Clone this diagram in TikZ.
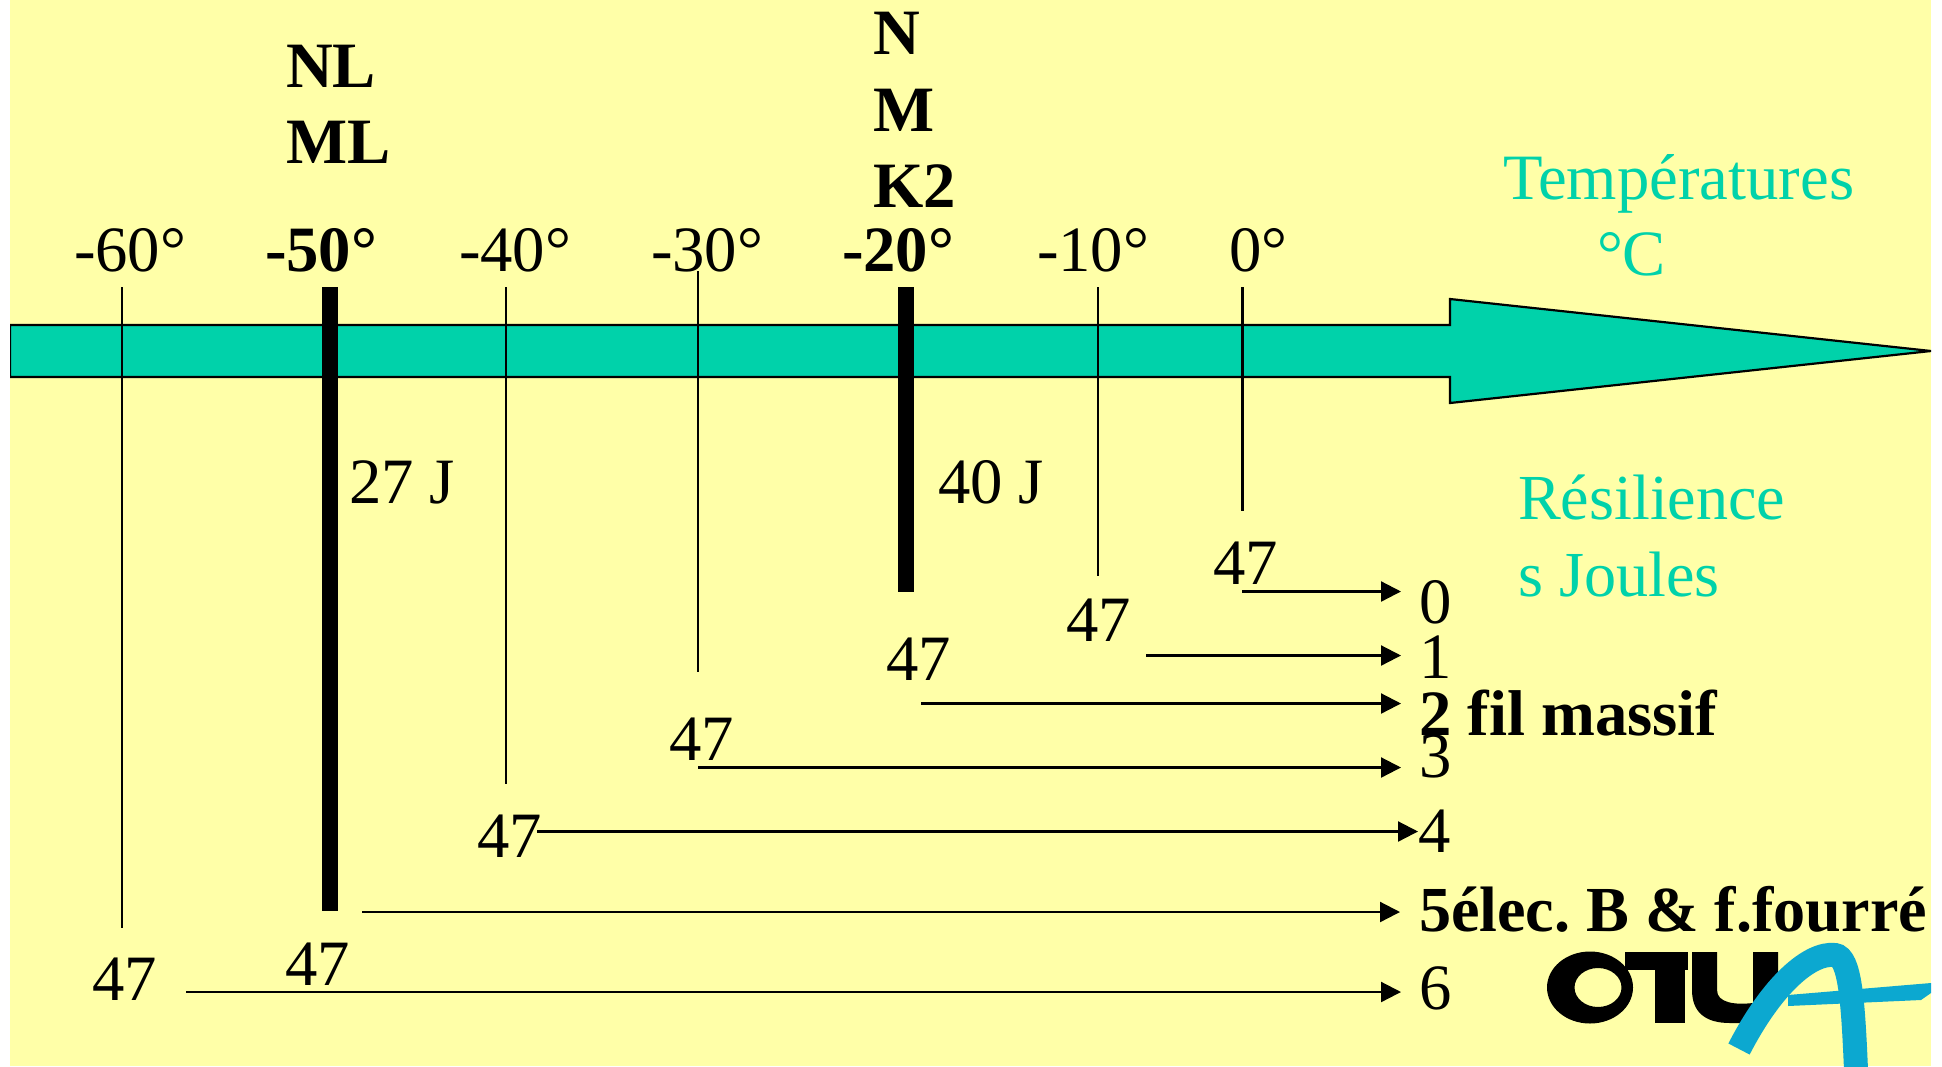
\documentclass[tikz,border=0pt]{standalone}
\usepackage{fontspec}
\setmainfont{Liberation Serif}
\usetikzlibrary{arrows.meta}
\definecolor{paper}{HTML}{FFFFA8}
\definecolor{teal}{HTML}{00D2AA}
\definecolor{logoblue}{HTML}{0CA8D0}
\tikzset{
  txt/.style={anchor=base west,inner sep=0pt,outer sep=0pt,font=\fontsize{64.7}{65}\selectfont\frenchspacing,text=black},
  boldtxt/.style={txt,font=\fontsize{64.7}{65}\selectfont\bfseries\frenchspacing},
  tealtxt/.style={txt,text=teal},
  thinline/.style={draw=black,line width=2.2pt},
  thickline/.style={draw=black,line width=16pt},
  conn/.style={draw=black,line width=2.2pt,-{Triangle[length=20pt,width=20pt]},shorten >=0pt},
}
\begin{document}
\begin{tikzpicture}[x=1pt,y=-1pt]
\useasboundingbox (0,0) rectangle (1942,1066);
\fill[white] (0,0) rectangle (1942,1066);
\fill[paper] (10,0) rectangle (1931,1066);
% main arrow
\begin{scope}
\clip (10,0) rectangle (1931,1066);
\draw[fill=teal,draw=black,line width=2.2pt,miter limit=4] (10,325) -- (1450,325) -- (1450,299) -- (1931,351) -- (1450,403) -- (1450,377) -- (10,377) -- cycle;
\end{scope}
% scale lines
\coordinate (a60) at (122,287); \coordinate (b60) at (122,928);
\coordinate (a40) at (506,287); \coordinate (b40) at (506,784);
\coordinate (a30) at (698,271); \coordinate (b30) at (698,672);
\coordinate (a10) at (1098,287); \coordinate (b10) at (1098,576);
\coordinate (a0) at (1242.5,287); \coordinate (b0) at (1242.5,511);
\coordinate (a50) at (330,287); \coordinate (b50) at (330,911);
\coordinate (a20) at (906,287); \coordinate (b20) at (906,592);
\draw[thinline] (a60) -- (b60);
\draw[thinline] (a40) -- (b40);
\draw[thinline] (a30) -- (b30);
\draw[thinline] (a10) -- (b10);
\draw[thinline] (a0) -- (b0);
\draw[thickline] (a50) -- (b50);
\draw[thickline] (a20) -- (b20);
% top labels
\node[boldtxt] (nl) at (286,87) {NL};
\node[boldtxt] (ml) at (286,163) {ML};
\node[boldtxt] (n) at (873,54) {N};
\node[boldtxt] (m) at (873,131) {M};
\node[boldtxt] (k2) at (873,207) {K2};
\node[txt] (t60) at (74,271) {-60°};
\node[boldtxt] (t50) at (265,271) {-50°};
\node[txt] (t40) at (459,271) {-40°};
\node[txt] (t30) at (651,271) {-30°};
\node[boldtxt] (t20) at (842,271) {-20°};
\node[txt] (t10) at (1037,271) {-10°};
\node[txt] (t0) at (1229,271) {0°};
\node[tealtxt] (temp) at (1503,199) {Températures};
\node[tealtxt] (degc) at (1597,275) {°C};
\node[tealtxt,font=\fontsize{64.2}{65}\selectfont] (res) at (1518,519) {Résilience};
\node[tealtxt,font=\fontsize{64.2}{65}\selectfont] (joul) at (1518,596) {s Joules};
\node[txt] (j27) at (349,503) {27 J};
\node[txt] (j40) at (938,503) {40 J};
% 47 labels
\node[txt] (s0) at (1213,584) {47};
\node[txt] (s1) at (1066,641) {47};
\node[txt] (s2) at (886,680) {47};
\node[txt] (s3) at (669,760) {47};
\node[txt] (s4) at (477,857) {47};
\node[txt] (s5) at (285,985) {47};
\node[txt] (s6) at (92,1000) {47};
% resilience classes
\node[txt] (r0) at (1419,623) {0};
\node[txt] (r1) at (1419,678) {1};
\node[txt] (r3) at (1419,777) {3};
\node[boldtxt] (r2) at (1419,735) {2 fil massif};
\node[txt] (r4) at (1418,852) {4};
\node[boldtxt,font=\fontsize{64.2}{65}\selectfont\bfseries\frenchspacing] (r5) at (1419,931) {5élec. B \& f.fourré};
\node[txt] (r6) at (1419,1009) {6};
% connectors
\coordinate (f0) at (1242,591.5); \coordinate (e0) at (1401,591.5);
\coordinate (f1) at (1146,655.5); \coordinate (e1) at (1401,655.5);
\coordinate (f2) at (921,703.5); \coordinate (e2) at (1401,703.5);
\coordinate (f3) at (698,767.5); \coordinate (e3) at (1401,767.5);
\coordinate (f4) at (537,831.5); \coordinate (e4) at (1418,831.5);
\coordinate (f5) at (362,912); \coordinate (e5) at (1400,912);
\coordinate (f6) at (186,992); \coordinate (e6) at (1401,992);
\draw[conn] (f0) -- (e0);
\draw[conn] (f1) -- (e1);
\draw[conn] (f2) -- (e2);
\draw[conn] (f3) -- (e3);
\draw[conn] (f4) -- (e4);
\draw[conn] (f5) -- (e5);
\draw[conn] (f6) -- (e6);
% logo
\begin{scope}
\clip (10,0) rectangle (1931,1066);
\fill[black,even odd rule] (1590,987.5) ellipse [x radius=43,y radius=36] (1598,987.5) ellipse [x radius=23.5,y radius=19.5];
\fill[black] (1625,952) rectangle (1688,970);
\fill[black] (1655,952) rectangle (1685,1023);
\fill[black] (1692,952) -- (1717,952) -- (1717,990) .. controls (1717,1003) and (1735,1005) .. (1753,1003) -- (1753,952) -- (1778,952) -- (1778,1004) .. controls (1775,1020) and (1745,1024) .. (1730,1023) .. controls (1705,1023) and (1692,1012) .. (1692,990) -- cycle;
\draw[logoblue,line width=24pt,line cap=butt] (1739,1049) .. controls (1772,985) and (1810,952) .. (1835,955) .. controls (1850,957) and (1853,1000) .. (1856,1070);
\fill[logoblue] (1788,995) -- (1931,983) -- (1931,993) -- (1921,1000) -- (1788,1006) -- cycle;
\end{scope}
\end{tikzpicture}
\end{document}
